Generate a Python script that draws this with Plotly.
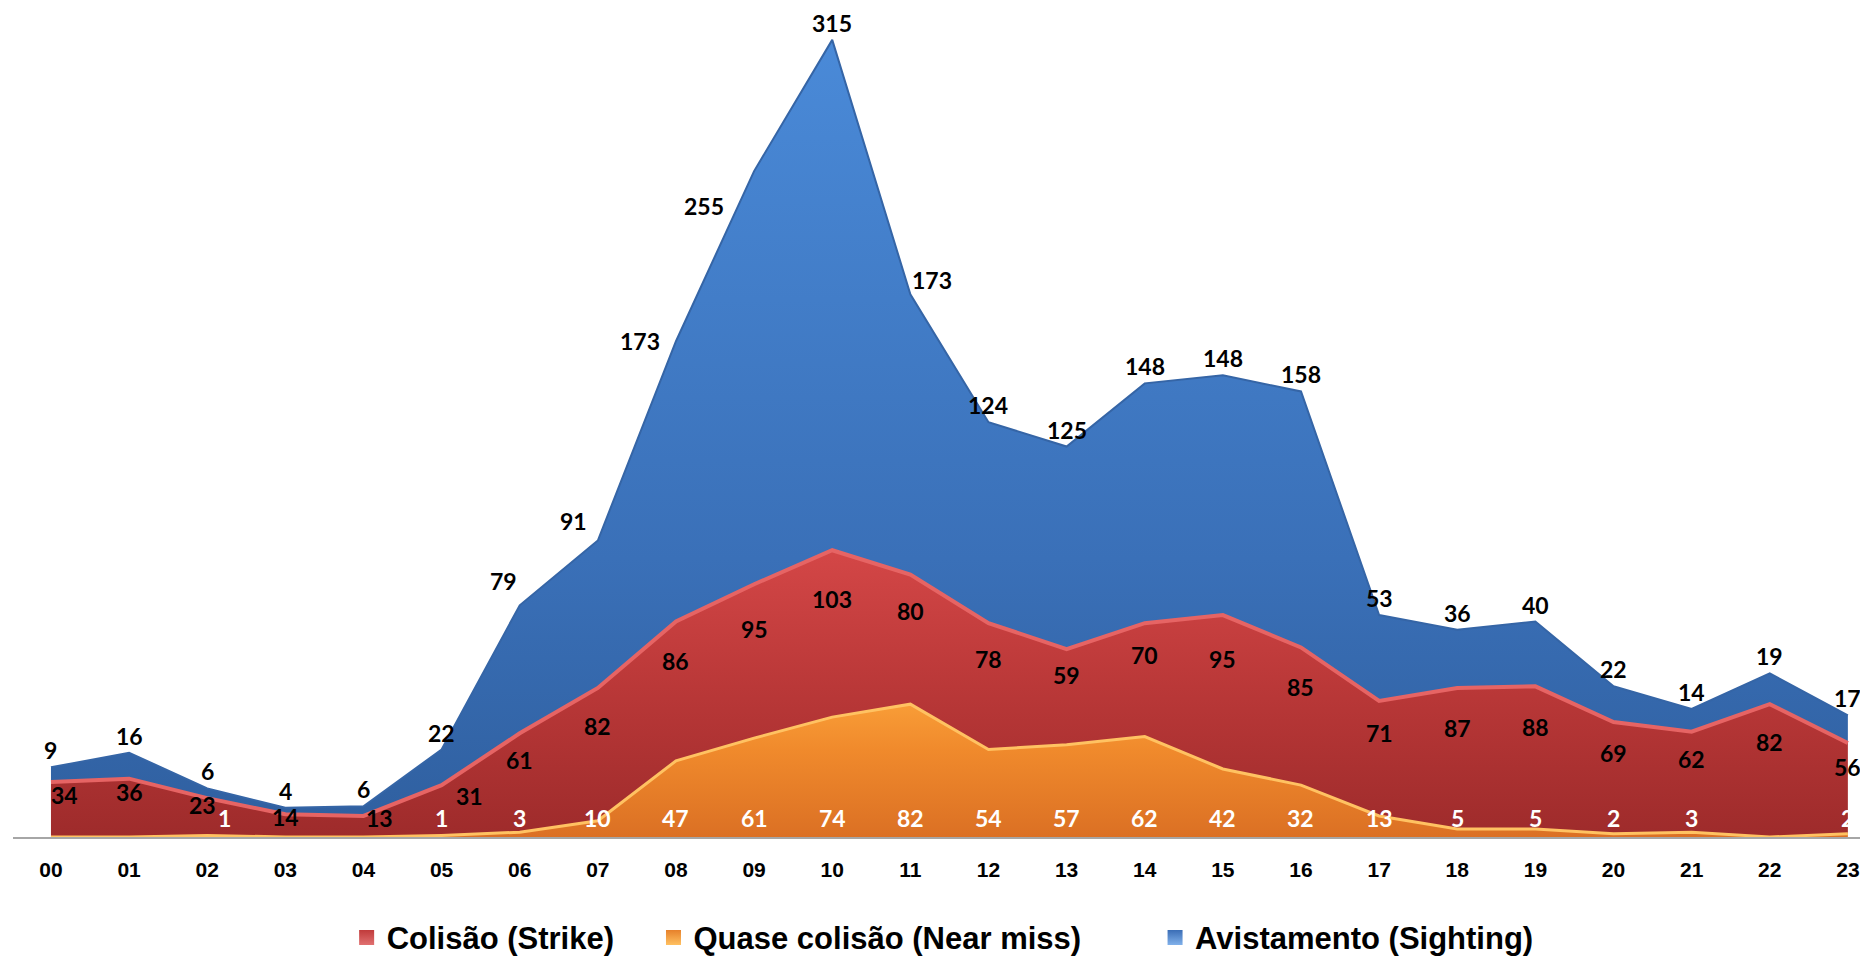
import plotly.graph_objects as go

hours = ["00", "01", "02", "03", "04", "05", "06", "07", "08", "09", "10", "11",
         "12", "13", "14", "15", "16", "17", "18", "19", "20", "21", "22", "23"]
near_miss = [0, 0, 1, 0, 0, 1, 3, 10, 47, 61, 74, 82, 54, 57, 62, 42, 32, 13, 5, 5, 2, 3, 0, 2]
strike = [34, 36, 23, 14, 13, 31, 61, 82, 86, 95, 103, 80, 78, 59, 70, 95, 85, 71, 87, 88, 69, 62, 82, 56]
sighting = [9, 16, 6, 4, 6, 22, 79, 91, 173, 255, 315, 173, 124, 125, 148, 148, 158, 53, 36, 40, 22, 14, 19, 17]

names = ["Colisão (Strike)", "Quase colisão (Near miss)", "Avistamento (Sighting)"]

x = list(range(len(hours)))
totals = [a + b + c for a, b, c in zip(near_miss, strike, sighting)]
ymax = max(totals)

# ---- label styling (offsets in px, not data) ----
NEAR_LABEL_Y = 12
near_xshift = {2: 17}
strike_xshift = {0: 14, 2: -5, 4: 16, 5: 28}
sight_shift = {6: (-16, 24), 7: (-24, 20), 8: (-36, 0), 9: (-50, -35), 11: (22, 14)}
SIGHT_DEFAULT_YSHIFT = 17
label_font = dict(family="Lato", size=23, color="black", weight="bold")
white_font = dict(family="Lato", size=23, color="white", weight="bold")

fig = go.Figure()

# stacked areas (bottom to top)
fig.add_trace(go.Scatter(
    x=x, y=near_miss, stackgroup="one", mode="lines", name=names[1], showlegend=False,
    line=dict(color="#FFC262", width=3),
    fillgradient=dict(type="vertical", start=0, stop=90,
                      colorscale=[[0, "#DB7024"], [0.6, "#F08A2C"], [1, "#FBA23A"]]),
    hoverinfo="skip"))
fig.add_trace(go.Scatter(
    x=x, y=strike, stackgroup="one", mode="lines", name=names[0], showlegend=False,
    line=dict(color="#E66464", width=4),
    fillgradient=dict(type="vertical", start=0, stop=185,
                      colorscale=[[0, "#9E2B2B"], [0.5, "#BA3838"], [1, "#D64848"]]),
    hoverinfo="skip"))
fig.add_trace(go.Scatter(
    x=x, y=sighting, stackgroup="one", mode="lines", name=names[2], showlegend=False,
    line=dict(color="#3565A6", width=2),
    fillgradient=dict(type="vertical", start=0, stop=ymax,
                      colorscale=[[0, "#2F5F9F"], [0.35, "#3A70B8"], [1, "#4A8AD8"]]),
    hoverinfo="skip"))

# legend entries
legend_colors = [("#C03A3A", "#E07070"), ("#E6802A", "#FFC060"), ("#3A6DB5", "#80B0EA")]
legend_pad = ["\u00a0" * 4, "\u00a0" * 8, ""]
for nm, (c, g), pad in zip(names, legend_colors, legend_pad):
    fig.add_trace(go.Scatter(
        x=[None], y=[None], mode="markers", name=nm + pad,
        marker=dict(symbol="square", size=15, color=c,
                    gradient=dict(type="vertical", color=g),
                    line=dict(width=0))))

# data labels as annotations
annotations = []
for i in x:
    if near_miss[i]:
        annotations.append(dict(
            x=i, y=NEAR_LABEL_Y, text=str(near_miss[i]), showarrow=False,
            xshift=near_xshift.get(i, 0), yanchor="middle", font=white_font))
    annotations.append(dict(
        x=i, y=near_miss[i] + strike[i] * 0.68 + 3, text=str(strike[i]), showarrow=False,
        xshift=strike_xshift.get(i, 0), yanchor="middle", font=label_font))
    dx, dy = sight_shift.get(i, (0, SIGHT_DEFAULT_YSHIFT))
    annotations.append(dict(
        x=i, y=totals[i], text=str(sighting[i]), showarrow=False,
        xshift=dx, yshift=dy, yanchor="middle", font=label_font))

fig.update_layout(
    width=1868, height=957,
    margin=dict(l=5, r=0, t=10, b=119),
    plot_bgcolor="white", paper_bgcolor="white",
    showlegend=True,
    annotations=annotations,
    legend=dict(orientation="h", x=0.499, xanchor="center", y=-0.123, yanchor="middle",
                font=dict(family="Liberation Sans", size=31, color="black", weight="bold"),
                traceorder="normal", itemsizing="trace"),
    xaxis=dict(range=[-0.486, 23.36], tickvals=x, ticktext=hours, showgrid=False,
               zeroline=False, showline=True, linecolor="#A6A6A6", linewidth=2,
               ticks="", ticklabelstandoff=13,
               tickfont=dict(family="Liberation Sans", size=21, color="black", weight="bold")),
    yaxis=dict(range=[0, 505.5], visible=False, showgrid=False, zeroline=False),
)

fig.write_html("out.html")
